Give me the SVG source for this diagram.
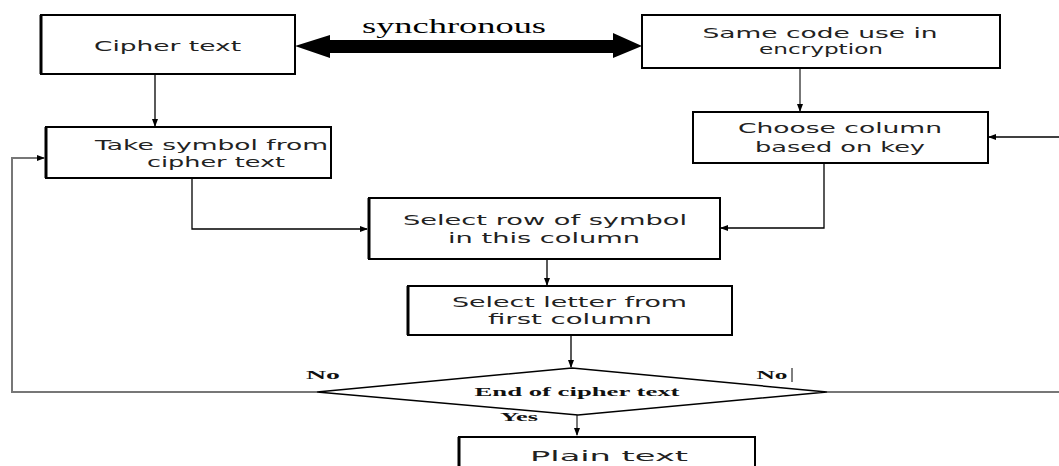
<svg xmlns="http://www.w3.org/2000/svg" width="1059" height="466" viewBox="0 0 1059 466">
<style>
.box{fill:#fff;stroke:#000;stroke-width:2}
.edge{fill:none;stroke:#000;stroke-width:1.3}
.gray{fill:none;stroke:#777;stroke-width:2}
.t{font-family:"DejaVu Sans",sans-serif;font-size:14px;fill:#222;text-anchor:middle}
.s{font-family:"Liberation Serif",serif;font-weight:bold;font-size:13px;fill:#111;text-anchor:middle}
</style>
<defs>
<marker id="ah" markerWidth="8" markerHeight="8" refX="7" refY="4" orient="auto" markerUnits="userSpaceOnUse">
<path d="M0,1 L8,4 L0,7 z" fill="#000"/>
</marker>
</defs>
<rect width="1059" height="466" fill="#fff"/>
<g id="connectors">
<line class="edge" x1="155" y1="74" x2="155" y2="126" marker-end="url(#ah)"/>
<line class="gray" x1="800" y1="68" x2="800" y2="111" marker-end="url(#ah)"/>
<line class="edge" x1="1059" y1="137" x2="989" y2="137" marker-end="url(#ah)"/>
<polyline class="edge" points="192,178 192,229 367,229" marker-end="url(#ah)"/>
<polyline class="edge" points="824,163 824,228 721,228" marker-end="url(#ah)"/>
<line class="edge" x1="547" y1="259" x2="547" y2="285" marker-end="url(#ah)"/>
<line class="edge" x1="571" y1="335" x2="571" y2="367" marker-end="url(#ah)"/>
<line class="gray" x1="577" y1="415" x2="577" y2="435" marker-end="url(#ah)"/>
<polyline class="gray" points="317,392 12,392 12,158 44,158" marker-end="url(#ah)"/>
<line class="gray" x1="827" y1="392" x2="1059" y2="392"/>
<polygon points="295,46 330,35 330,40 613,40 613,33 642,46 613,58 613,53 330,53 330,58" fill="#000"/>
<text x="454" y="33" font-family="Liberation Serif,serif" font-size="22" text-anchor="middle" textLength="184" lengthAdjust="spacingAndGlyphs" fill="#000">synchronous</text>
<text class="s" x="323" y="379" textLength="34" lengthAdjust="spacingAndGlyphs">No</text>
<text class="s" x="772" y="379" textLength="31" lengthAdjust="spacingAndGlyphs">No</text>
<line x1="792" y1="368" x2="792" y2="382" stroke="#000" stroke-width="1"/>
<text class="s" x="519" y="421" textLength="38" lengthAdjust="spacingAndGlyphs">Yes</text>
</g>
<g id="cipher">
<rect class="box" x="41" y="15" width="254" height="59"/>
<line x1="41" y1="15" x2="41" y2="74" stroke="#000" stroke-width="3"/>
<text class="t" x="167.5" y="51" textLength="147" lengthAdjust="spacingAndGlyphs">Cipher text</text>
</g>
<g id="samecode">
<rect class="box" x="642" y="15" width="358" height="53"/>
<text class="t" x="820" y="38" textLength="235" lengthAdjust="spacingAndGlyphs">Same code use in</text>
<text class="t" x="821" y="54" textLength="124" lengthAdjust="spacingAndGlyphs">encryption</text>
</g>
<g id="takesymbol">
<rect class="box" x="46" y="127" width="285" height="51"/>
<line x1="46" y1="127" x2="46" y2="178" stroke="#000" stroke-width="3"/>
<text class="t" x="211.5" y="150" textLength="233" lengthAdjust="spacingAndGlyphs">Take symbol from</text>
<text class="t" x="216" y="167" textLength="138" lengthAdjust="spacingAndGlyphs">cipher text</text>
</g>
<g id="choose">
<rect class="box" x="693" y="112" width="295" height="51"/>
<text class="t" x="840" y="133" textLength="204" lengthAdjust="spacingAndGlyphs">Choose column</text>
<text class="t" x="840" y="152" textLength="170" lengthAdjust="spacingAndGlyphs">based on key</text>
</g>
<g id="selectrow">
<rect class="box" x="369" y="198" width="351" height="61"/>
<line x1="369" y1="198" x2="369" y2="259" stroke="#000" stroke-width="3"/>
<text class="t" x="545" y="225" textLength="284" lengthAdjust="spacingAndGlyphs">Select row of symbol</text>
<text class="t" x="544" y="243" textLength="192" lengthAdjust="spacingAndGlyphs">in this column</text>
</g>
<g id="selectletter">
<rect class="box" x="408" y="286" width="324" height="49"/>
<line x1="408" y1="286" x2="408" y2="335" stroke="#000" stroke-width="3"/>
<text class="t" x="569.5" y="307" textLength="235" lengthAdjust="spacingAndGlyphs">Select letter from</text>
<text class="t" x="570" y="324" textLength="164" lengthAdjust="spacingAndGlyphs">first column</text>
</g>
<g id="decision">
<polygon points="317,392 572,368 827,392 578,415" fill="#fff" stroke="#000" stroke-width="1.5"/>
<text class="s" x="577" y="396" textLength="205" lengthAdjust="spacingAndGlyphs">End of cipher text</text>
</g>
<g id="plain">
<rect class="box" x="459" y="437" width="296" height="40"/>
<line x1="459" y1="437" x2="459" y2="466" stroke="#000" stroke-width="3"/>
<text class="t" x="609" y="461" font-size="20" textLength="158" lengthAdjust="spacingAndGlyphs">Plain text</text>
</g>
</svg>
